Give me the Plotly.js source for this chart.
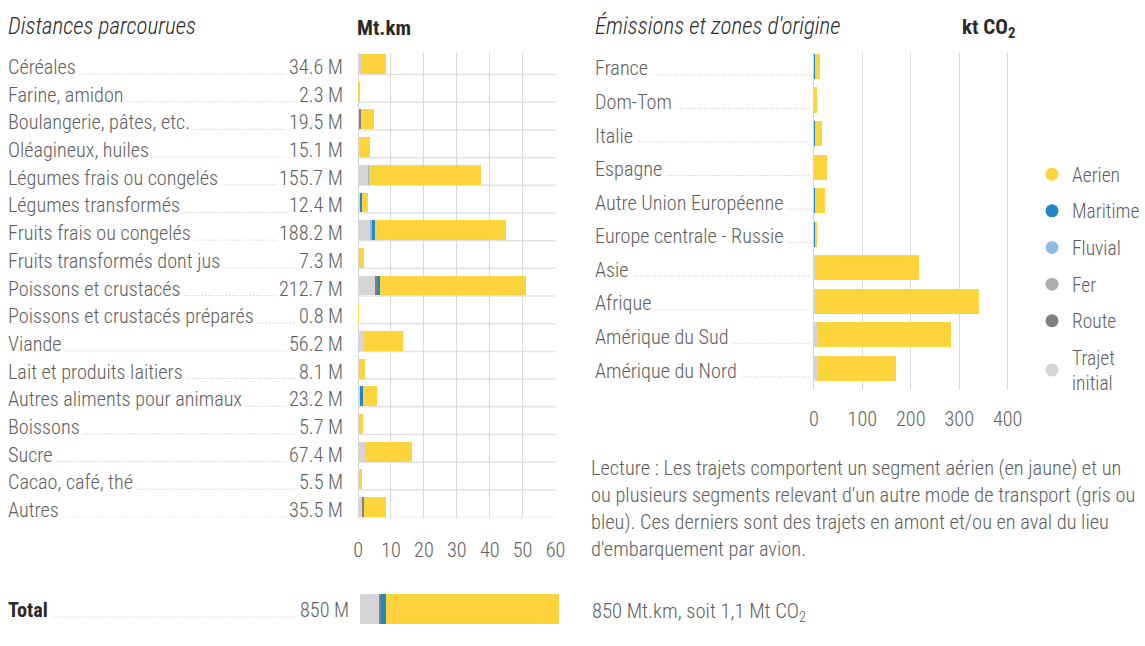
<!DOCTYPE html>
<html><head><meta charset="utf-8">
<script src="https://cdn.plot.ly/plotly-3.0.1.min.js"></script>
<style>html,body{margin:0;padding:0;background:#fff;overflow:hidden}#chart{width:1145px;height:646px}</style>
</head><body><div id="chart"></div>
<script>
// ---------- DATA ----------
const categories = ["Céréales","Farine, amidon","Boulangerie, pâtes, etc.","Oléagineux, huiles","Légumes frais ou congelés","Légumes transformés","Fruits frais ou congelés","Fruits transformés dont jus","Poissons et crustacés","Poissons et crustacés préparés","Viande","Lait et produits laitiers","Autres aliments pour animaux","Boissons","Sucre","Cacao, café, thé","Autres"];
const distanceLabels = ["34.6 M","2.3 M","19.5 M","15.1 M","155.7 M","12.4 M","188.2 M","7.3 M","212.7 M","0.8 M","56.2 M","8.1 M","23.2 M","5.7 M","67.4 M","5.5 M","35.5 M"];
// Mt.km by transport mode
const distTrajetInitial = [0.8, 0.1, 0.6, 0.5, 3.1, 0.5, 3.9, 0.2, 5.4, 0.05, 1.8, 0.2, 0.6, 0.2, 2.0, 0.2, 1.4];
const distRoute         = [0,   0,   0.3, 0,   0,   0,   0,   0,   0.3, 0,    0,   0,   0,   0,   0,   0,   0.4];
const distFer           = [0,   0,   0,   0,   0,   0,   0,   0,   0,   0,    0,   0,   0,   0,   0,   0,   0];
const distFluvial       = [0,   0,   0,   0,   0.1, 0,   0.2, 0,   0,   0,    0,   0,   0,   0,   0,   0,   0];
const distMaritime      = [0,   0,   0,   0,   0,   0.8, 0.9, 0,   0.9, 0,    0,   0,   0.8, 0,   0,   0,   0];
const distAerien        = [7.6, 0.45,3.9, 3.2, 34.3,1.6, 40.0,1.5, 44.5,0.15, 11.8,1.8, 4.3, 1.2, 14.3,1.1, 6.7];

const totalName = "Total";
const totalLabel = "850 M";
const totalTrajetInitial = [83];
const totalRoute = [8];
const totalFer = [0];
const totalFluvial = [0];
const totalMaritime = [18];
const totalAerien = [741];

const zones = ["France","Dom-Tom","Italie","Espagne","Autre Union Européenne","Europe centrale - Russie","Asie","Afrique","Amérique du Sud","Amérique du Nord"];
// kt CO2 by transport mode
const co2TrajetInitial = [0,   0, 0,   1,    0,   0,   1.5, 3,   6.5, 8];
const co2Route         = [0,   0, 0,   0,    0,   0,   0,   0,   0,   0];
const co2Fer           = [0,   0, 0,   0,    0,   0,   0,   0,   0,   0];
const co2Fluvial       = [0,   0, 0,   0,    0,   0,   0,   0,   0,   0];
const co2Maritime      = [1.5, 0, 1.5, 0,    1.5, 2.5, 0,   0,   0,   0];
const co2Aerien        = [12,  6, 15,  25.5, 21,  3,   216, 338, 277, 160.5];

const modeNames = ["Trajet initial","Route","Fer","Fluvial","Maritime","Aerien"];
const legendNames = ["Aerien","Maritime","Fluvial","Fer","Route","Trajet<br>initial"];

const distTicks = [0,10,20,30,40,50,60];
const co2Ticks = [0,100,200,300,400];

const titleLeft = "Distances parcourues";
const unitLeft = "Mt.km";
const titleRight = "Émissions et zones d'origine";
const unitRight = "kt CO<sub>2</sub>";
const lectureLines = [
  "Lecture : Les trajets comportent un segment aérien (en jaune) et un",
  "ou plusieurs segments relevant d'un autre mode de transport (gris ou",
  "bleu). Ces derniers sont des trajets en amont et/ou en aval du lieu",
  "d'embarquement par avion."
];
const footRight = "850 Mt.km, soit 1,1 Mt CO<sub>2</sub>";

// ---------- STYLE ----------
const W = 1145, H = 646;
const px = x => x / W;
const py = y => 1 - y / H;
const FONT = "Roboto Condensed, Roboto, sans-serif";
const TXT = "#5e5e5e";
const DARK = "#2a2a2a";
const colors = {"Trajet initial":"#d6d5d3","Route":"#808083","Fer":"#aeaeb1","Fluvial":"#8ebbe3","Maritime":"#1f88c9","Aerien":"#fdd43b"};
const legendColorKeys = ["Aerien","Maritime","Fluvial","Fer","Route","Trajet initial"];
const PADL = 2, PADR = 3; // annotation box padding compensation

const canvas = document.createElement("canvas");
const ctx = canvas.getContext("2d");
function textWidth(t, size, weight){
  ctx.font = (weight||"300") + " " + size + "px 'Roboto Condensed', Roboto, sans-serif";
  return ctx.measureText(t).width;
}

const distSeries = [distTrajetInitial, distRoute, distFer, distFluvial, distMaritime, distAerien];
const totalSeries = [totalTrajetInitial, totalRoute, totalFer, totalFluvial, totalMaritime, totalAerien];
const co2Series = [co2TrajetInitial, co2Route, co2Fer, co2Fluvial, co2Maritime, co2Aerien];

const traces = [];
modeNames.forEach((m, k) => {
  traces.push({type:"bar", orientation:"h", x:distSeries[k], y:categories, xaxis:"x", yaxis:"y",
    width:0.72, marker:{color:colors[m], line:{width:0}}, name:m, showlegend:false, hoverinfo:"x+y+name"});
  traces.push({type:"bar", orientation:"h", x:totalSeries[k], y:[totalName], xaxis:"x3", yaxis:"y3",
    width:1, marker:{color:colors[m], line:{width:0}}, name:m, showlegend:false, hoverinfo:"x+name"});
  traces.push({type:"bar", orientation:"h", x:co2Series[k], y:zones, xaxis:"x2", yaxis:"y2",
    width:0.745, marker:{color:colors[m], line:{width:0}}, name:m, showlegend:false, hoverinfo:"x+y+name"});
});
legendNames.forEach((n, k) => {
  traces.push({type:"scatter", mode:"markers", x:[null], y:[null], xaxis:"x2", yaxis:"y2",
    name:n, legendgroup:"g"+k, marker:{size:13, color:colors[legendColorKeys[k]]}, showlegend:true});
});

const annotations = [];
const shapes = [];
const LFS = 20.2;
function addText(text, x, xanchor, yref, y, size, opts){
  const xx = xanchor === "left" ? x - PADL : x + PADR;
  annotations.push(Object.assign({text:text, xref:"paper", x:px(xx), xanchor:xanchor, yref:yref, y:y, yanchor:"middle",
    showarrow:false, font:{family:FONT, size:size, color:TXT, weight:300}}, opts||{}));
}
// left labels
categories.forEach((c, i) => {
  addText(c, 8, "left", "y", i, LFS, {yshift:-3});
  addText(distanceLabels[i], 343, "right", "y", i, LFS, {yshift:-3});
  const x0 = 8 + textWidth(c, LFS) + 4;
  const x1 = 343 - textWidth(distanceLabels[i], LFS) - 2;
  shapes.push({type:"line", xref:"paper", yref:"y", x0:px(x0), x1:px(x1), y0:i+0.36, y1:i+0.36,
    line:{color:"#c2c2c2", width:1, dash:"1px,2px"}});
  // row separator
  shapes.push({type:"line", xref:"x domain", yref:"y", x0:0, x1:1, y0:i+0.38, y1:i+0.38,
    line:{color:"#e3e3e3", width:1.5}, layer:"below"});
});
// total row
addText("<b>"+totalName+"</b>", 8, "left", "y3", 0, LFS, {yshift:-1, font:{family:FONT, size:LFS, color:DARK, weight:300}});
addText(totalLabel, 349, "right", "y3", 0, LFS, {yshift:-1});
shapes.push({type:"line", xref:"paper", yref:"y3", x0:px(8+textWidth(totalName, LFS, "bold")+4), x1:px(349-textWidth(totalLabel, LFS)-2),
  y0:-0.27, y1:-0.27, line:{color:"#c2c2c2", width:1, dash:"1px,2px"}});
// right labels
zones.forEach((z, i) => {
  addText(z, 597, "left", "y2", i, LFS, {yshift:-2});
  const x0 = 597 + textWidth(z, LFS) + 5;
  shapes.push({type:"line", xref:"paper", yref:"y2", x0:px(x0), x1:px(812), y0:i+0.25, y1:i+0.25,
    line:{color:"#c2c2c2", width:1, dash:"1px,2px"}});
});
// titles
const titleFont = {family:FONT, size:23, color:DARK, weight:300};
const unitFont = {family:FONT, size:21, color:DARK, weight:400};
addText("<i>"+titleLeft+"</i>", 8, "left", "paper", py(26), 23, {font:titleFont});
addText("<b>"+unitLeft+"</b>", 358, "left", "paper", py(28), 21, {font:unitFont});
addText("<i>"+titleRight+"</i>", 597, "left", "paper", py(26), 23, {font:titleFont});
addText("<b>"+unitRight+"</b>", 965, "left", "paper", py(28), 21, {font:unitFont});
lectureLines.forEach((l, k) => addText(l, 593, "left", "paper", py(468 + 27*k), 20.4));
addText(footRight, 594, "left", "paper", py(612), 20.6);

const layout = {
  width:W, height:H, margin:{l:0,r:0,t:0,b:0},
  paper_bgcolor:"#fff", plot_bgcolor:"rgba(0,0,0,0)",
  barmode:"stack", showlegend:true,
  font:{family:FONT, color:TXT, weight:300},
  xaxis:{domain:[px(359), px(557)], range:[0, 60.01], tickvals:distTicks, showgrid:true, gridcolor:"#d9d9d9", gridwidth:1.3,
    zeroline:true, zerolinecolor:"#d3d3d3", zerolinewidth:1.3, showline:false, ticks:"outside", ticklen:14, tickcolor:"rgba(0,0,0,0)",
    tickfont:{family:FONT, size:LFS, color:TXT, weight:300}, anchor:"y", fixedrange:true},
  yaxis:{domain:[py(517.5), py(53)], type:"category", range:[16.38, -0.40], showticklabels:false, showgrid:false, zeroline:false, anchor:"x", fixedrange:true},
  xaxis2:{domain:[px(816), px(1015.2)], range:[0, 410], tickvals:co2Ticks, showgrid:true, gridcolor:"#d9d9d9", gridwidth:1.3,
    zeroline:true, zerolinecolor:"#d3d3d3", zerolinewidth:1.3, ticks:"outside", ticklen:11, tickcolor:"rgba(0,0,0,0)",
    tickfont:{family:FONT, size:LFS, color:TXT, weight:300}, anchor:"y2", fixedrange:true},
  yaxis2:{domain:[py(390), py(53)], type:"category", range:[9.64, -0.40], showticklabels:false, showgrid:false, zeroline:false, anchor:"x2", fixedrange:true},
  xaxis3:{domain:[px(361), px(560.5)], range:[0, 850], visible:false, anchor:"y3", fixedrange:true},
  yaxis3:{domain:[py(624), py(594)], type:"category", range:[-0.5, 0.5], visible:false, anchor:"x3", fixedrange:true},
  legend:{x:px(1035), y:py(155), xanchor:"left", yanchor:"top", traceorder:"grouped", tracegroupgap:8.3,
    font:{family:FONT, size:19.5, color:TXT, weight:300}, bgcolor:"rgba(0,0,0,0)", itemclick:false, itemdoubleclick:false},
  annotations:annotations, shapes:shapes
};
Plotly.newPlot("chart", traces, layout, {displayModeBar:false});
</script></body></html>
